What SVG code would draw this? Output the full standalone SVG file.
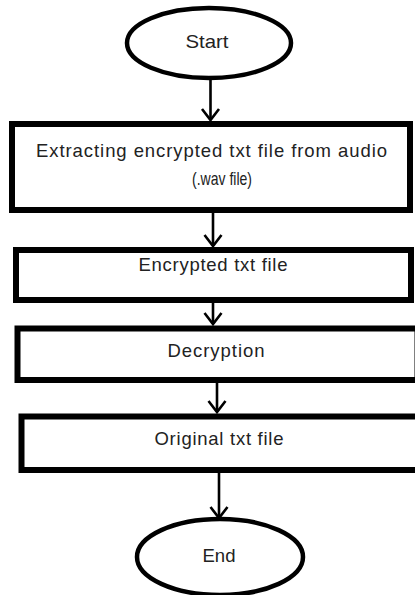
<svg xmlns="http://www.w3.org/2000/svg" width="415" height="595" viewBox="0 0 415 595">
<style>
.box{fill:#fff;stroke:#000;stroke-width:6}
.term{fill:#fff;stroke:#000;stroke-width:4.5}
.lbl{font-family:"Liberation Sans",Arial,sans-serif;font-size:18.5px;fill:#222;text-anchor:middle}
.con{stroke:#000;stroke-width:2.6;fill:none}
</style>
<defs>
<marker id="chev" markerUnits="userSpaceOnUse" viewBox="-14 -12 16 24" refX="0" refY="0" markerWidth="16" markerHeight="24" orient="auto" overflow="visible">
<path d="M-11,-8.5 L0,0 L-11,8.5" fill="none" stroke="#000" stroke-width="2.6"/>
</marker>
</defs>
<rect width="415" height="595" fill="#fff"/>
<g id="connectors">
<line class="con" x1="210.5" y1="79" x2="210.5" y2="120" marker-end="url(#chev)"/>
<line class="con" x1="213" y1="213" x2="213" y2="246" marker-end="url(#chev)"/>
<line class="con" x1="213" y1="303" x2="213" y2="324" marker-end="url(#chev)"/>
<line class="con" x1="217" y1="383" x2="217" y2="412" marker-end="url(#chev)"/>
<line class="con" x1="219" y1="473" x2="219" y2="518" marker-end="url(#chev)"/>
</g>
<g id="start">
<ellipse class="term" cx="209" cy="43" rx="82" ry="35"/>
<text class="lbl" x="207" y="48" textLength="43" lengthAdjust="spacingAndGlyphs">Start</text>
</g>
<g id="extract">
<rect class="box" x="12" y="124" width="398" height="86"/>
<text class="lbl" x="211.5" y="157" textLength="351" lengthAdjust="spacing">Extracting encrypted txt file from audio</text>
<text class="lbl" x="222" y="185" textLength="60" lengthAdjust="spacingAndGlyphs">(.wav file)</text>
</g>
<g id="encrypted">
<rect class="box" x="16" y="250" width="395" height="50"/>
<text class="lbl" x="213" y="271" textLength="149" lengthAdjust="spacing">Encrypted txt file</text>
</g>
<g id="decryption">
<rect class="box" x="17.5" y="328.5" width="400" height="51.5"/>
<text class="lbl" x="216" y="357" textLength="97" lengthAdjust="spacing">Decryption</text>
</g>
<g id="original">
<rect class="box" x="21.5" y="416.5" width="400" height="53.5"/>
<text class="lbl" x="219" y="445" textLength="129" lengthAdjust="spacing">Original txt file</text>
</g>
<g id="end">
<ellipse class="term" cx="220" cy="557" rx="83" ry="38"/>
<text class="lbl" x="219" y="562" textLength="33" lengthAdjust="spacingAndGlyphs">End</text>
</g>
</svg>
